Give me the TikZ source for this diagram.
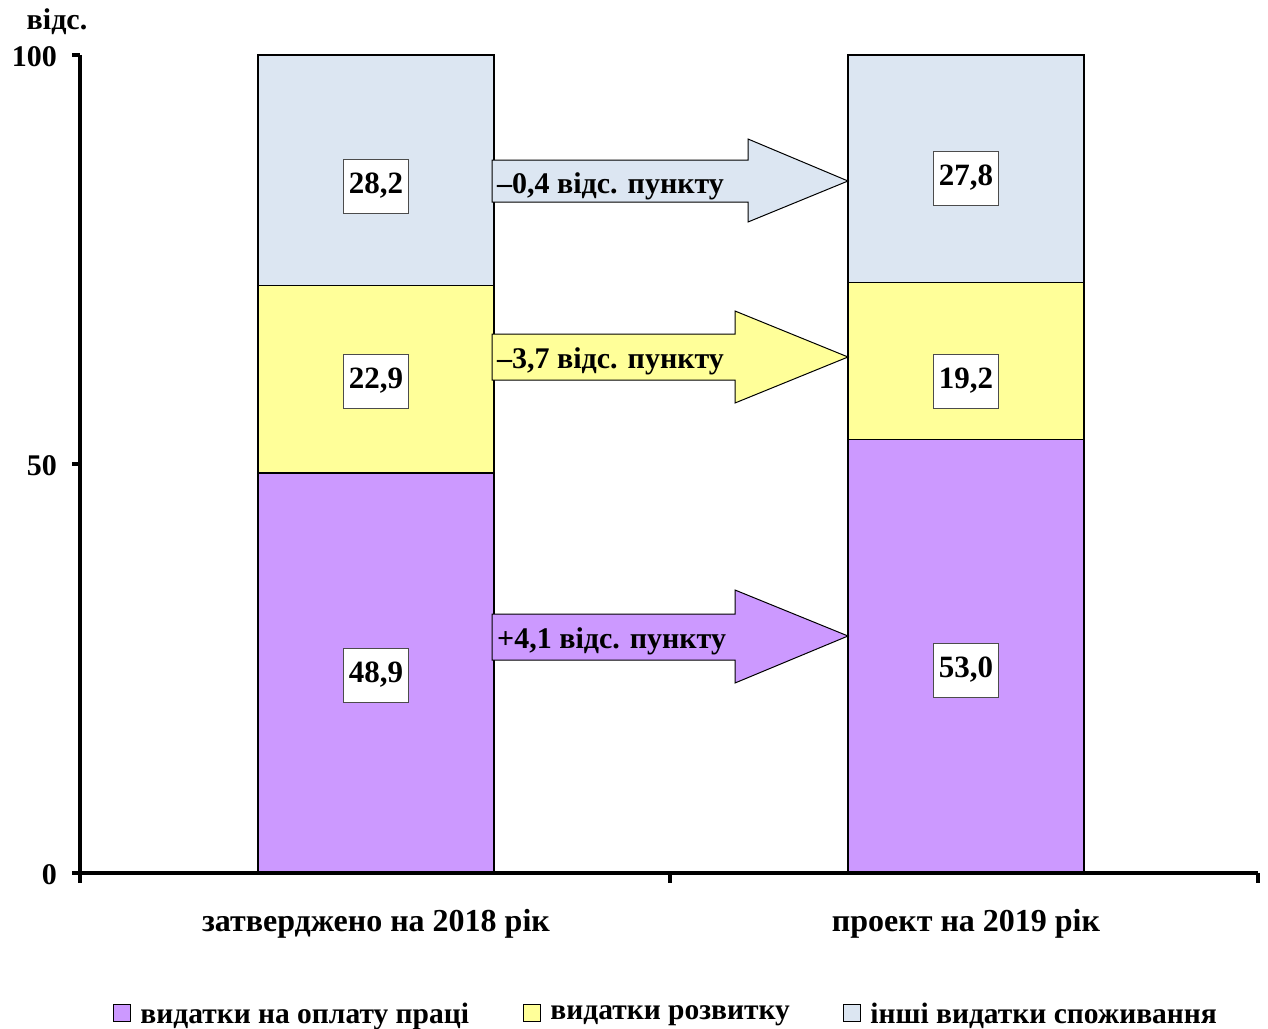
\documentclass[tikz,border=0pt]{standalone}
\usepackage{fontspec}
\setmainfont{Liberation Serif}
\usetikzlibrary{positioning}

\definecolor{labour}{RGB}{204,153,255}
\definecolor{devel}{RGB}{255,255,153}
\definecolor{other}{RGB}{220,230,242}

\tikzstyle{bar} = [rectangle, draw=black, line width=1.5pt,
                   minimum width=236pt, inner sep=0pt, outer sep=0pt,
                   anchor=south]
\tikzstyle{value} = [rectangle, draw=black!70, line width=0.8pt,
                     fill=white, inner xsep=5pt, minimum height=54pt,
                     font=\fontsize{31}{31}\selectfont\bfseries]
\tikzstyle{change} = [draw=black, line width=1pt]
\tikzstyle{changetext} = [anchor=west, inner sep=0pt,
                          font=\fontsize{30}{30}\selectfont\bfseries]
\tikzstyle{axis} = [line width=4.5pt]
\tikzstyle{ticklabel} = [anchor=east, inner sep=0pt,
                         font=\fontsize{30}{30}\selectfont\bfseries]
\tikzstyle{category} = [font=\fontsize{32}{32}\selectfont\bfseries]
\tikzstyle{legendbox} = [rectangle, draw=black, line width=1.5pt,
                         minimum size=17pt, inner sep=0pt]
\tikzstyle{legendtext} = [anchor=west, inner sep=0pt,
                          font=\fontsize{29.5}{29.5}\selectfont\bfseries]

\begin{document}
\begin{tikzpicture}[x=1pt, y=-1pt]
  \useasboundingbox (0,0) rectangle (1268,1028);

  % stacked bars, 2018
  \node (lab18) [bar, fill=labour, minimum height=400pt] at (376,873) {};
  \node (dev18) [bar, fill=devel, minimum height=187.3pt, above=0pt of lab18] {};
  \node (oth18) [bar, fill=other, minimum height=230.7pt, above=0pt of dev18] {};

  % stacked bars, 2019
  \node (lab19) [bar, fill=labour, minimum height=433.5pt] at (966,873) {};
  \node (dev19) [bar, fill=devel, minimum height=157.1pt, above=0pt of lab19] {};
  \node (oth19) [bar, fill=other, minimum height=227.4pt, above=0pt of dev19] {};

  % axes
  \coordinate (origin) at (80,873);
  \coordinate (top) at (80,55);
  \coordinate (xend) at (1258,873);
  \draw[axis] (top) -- (origin);
  \draw[axis] (72,873) -- (xend);
  \draw[axis] (72,55) -- (top);
  \draw[axis] (72,464) -- (80,464);
  \draw[axis] (origin) -- ++(0,10);
  \draw[axis] (670,873) -- (670,883);
  \draw[axis] (xend) -- ++(0,10);

  \node (t100) [ticklabel] at (57,57) {100};
  \node (t50) [ticklabel] at (57,466) {50};
  \node (t0) [ticklabel] at (57,875) {0};
  \node (unit) [category, font=\fontsize{30}{30}\selectfont\bfseries] at (57,22) {відс.};

  % value labels
  \node (v1) [value] at (376,186) {28,2};
  \node (v2) [value] at (376,381) {22,9};
  \node (v3) [value] at (376,675) {48,9};
  \node (v4) [value] at (966,178) {27,8};
  \node (v5) [value] at (966,381) {19,2};
  \node (v6) [value] at (966,670) {53,0};

  % change arrows
  \draw[change, fill=other] (492,160) -- (748,160) -- (748,139)
    -- (oth19.west |- 0,181) -- (748,222) -- (748,202) -- (492,202) -- cycle;
  \draw[change, fill=devel] (492,334) -- (735,334) -- (735,311)
    -- (dev19.west |- 0,357) -- (735,403) -- (735,380) -- (492,380) -- cycle;
  \draw[change, fill=labour] (492,614) -- (735,614) -- (735,590)
    -- (lab19.west |- 0,636) -- (735,683) -- (735,660) -- (492,660) -- cycle;

  \node (d1) [changetext] at (497,186) {–0,4 відс. пункту};
  \node (d2) [changetext] at (497,361) {–3,7 відс. пункту};
  \node (d3) [changetext] at (497,641) {+4,1 відс. пункту};

  % categories
  \node (c18) [category] at (376,924) {затверджено на 2018 рік};
  \node (c19) [category] at (966,924) {проект на 2019 рік};

  % legend
  \node (k1) [legendbox, fill=labour] at (122,1013) {};
  \node (l1) [legendtext, right=9pt of k1, yshift=-3pt] {видатки на оплату праці};
  \node (k2) [legendbox, fill=devel] at (532,1013) {};
  \node (l2) [legendtext, right=9pt of k2, yshift=-3pt] {видатки розвитку};
  \node (k3) [legendbox, fill=other] at (852,1013) {};
  \node (l3) [legendtext, right=9pt of k3, yshift=-3pt] {інші видатки споживання};
\end{tikzpicture}
\end{document}
